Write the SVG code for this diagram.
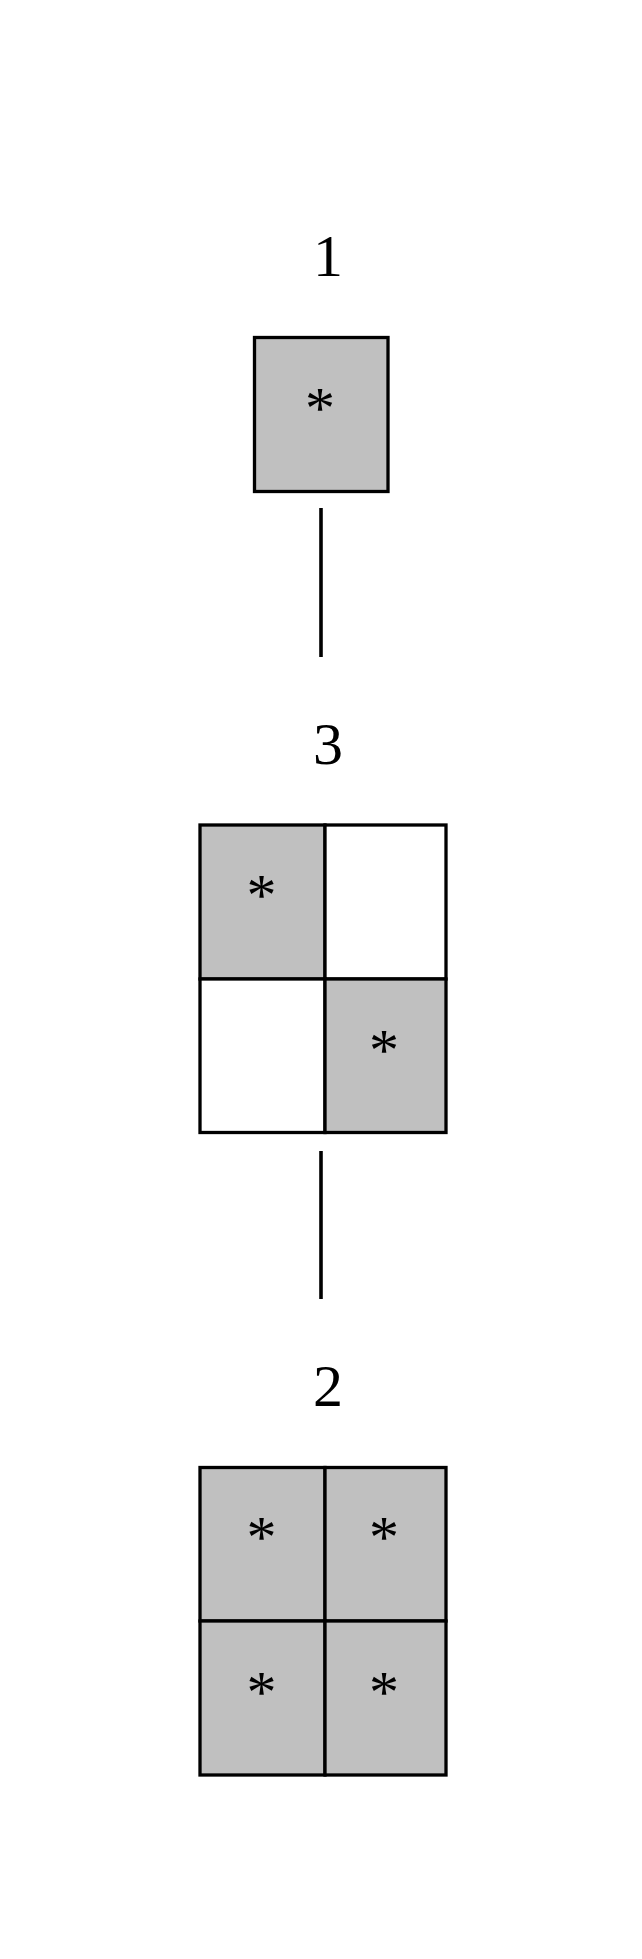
<svg xmlns="http://www.w3.org/2000/svg" width="642" height="1959" viewBox="0 0 642 1959">
<style>
.lbl{font-family:"Liberation Serif","Times New Roman",serif;font-size:60px;text-anchor:middle;fill:#000}
.cell{stroke:#000;stroke-width:3.3;stroke-linejoin:miter}
.on{fill:#c0c0c0}
.off{fill:#fff}
.edge{stroke:#000;stroke-width:3.6;fill:none}
</style>
<rect width="642" height="1959" fill="#fff"/>
<g id="connectors">
<line class="edge" x1="321" y1="508" x2="321" y2="657"/>
<line class="edge" x1="321" y1="1151" x2="321" y2="1299"/>
</g>
<g id="node1">
<text class="lbl" x="328" y="276">1</text>
<rect class="cell on" x="254.5" y="337.5" width="133.5" height="154"/>
<text class="lbl" x="320" y="428">*</text>
</g>
<g id="node3">
<text class="lbl" x="328" y="764">3</text>
<rect class="cell on" x="200" y="825" width="125" height="154"/>
<rect class="cell off" x="325" y="825" width="121" height="154"/>
<rect class="cell off" x="200" y="979" width="125" height="153.5"/>
<rect class="cell on" x="325" y="979" width="121" height="153.5"/>
<text class="lbl" x="261.5" y="915">*</text>
<text class="lbl" x="384" y="1070">*</text>
</g>
<g id="node2">
<text class="lbl" x="328" y="1406">2</text>
<rect class="cell on" x="200" y="1467.5" width="125" height="153.5"/>
<rect class="cell on" x="325" y="1467.5" width="121" height="153.5"/>
<rect class="cell on" x="200" y="1621" width="125" height="154"/>
<rect class="cell on" x="325" y="1621" width="121" height="154"/>
<text class="lbl" x="261.5" y="1557">*</text>
<text class="lbl" x="384" y="1557">*</text>
<text class="lbl" x="261.5" y="1712">*</text>
<text class="lbl" x="384" y="1712">*</text>
</g>
</svg>
